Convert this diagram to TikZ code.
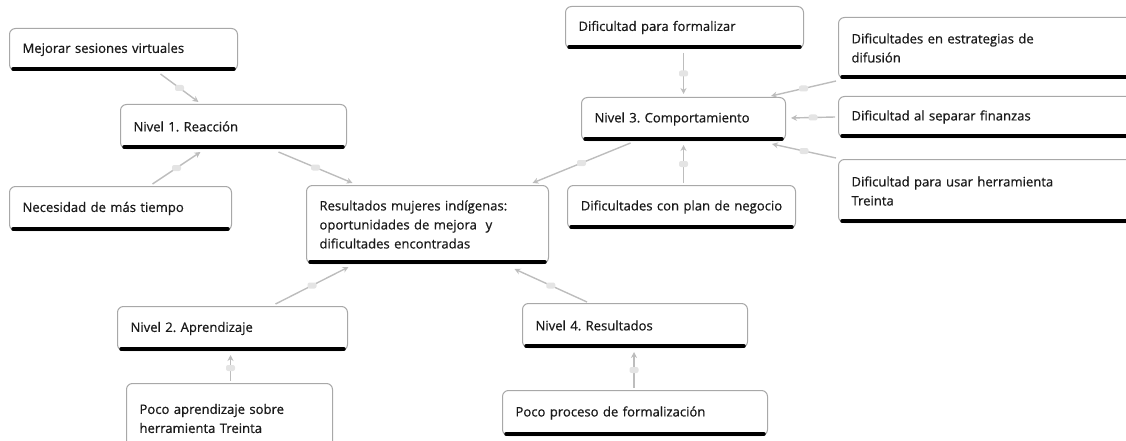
\documentclass[tikz,border=0pt]{standalone}
\usepackage{fontspec}
\setmainfont{Open Sans}[FakeBold=0.5]
\newfontfamily\semib{Open Sans}[FakeBold=0.6]
\usetikzlibrary{calc,arrows.meta}
\definecolor{boxgray}{HTML}{A8A8A8}
\definecolor{lgray}{HTML}{BDBDBD}
\definecolor{blobgray}{HTML}{E4E4E4}
\definecolor{txt}{HTML}{1A1A1A}
\begin{document}
\frenchspacing
\hyphenpenalty=10000
\begin{tikzpicture}[x=1pt,y=-1pt,
 box/.style={draw=boxgray, line width=1pt, fill=white, rounded corners=6pt, anchor=north west,
   inner xsep=13pt, inner ysep=4pt, align=left, font=\semib\fontsize{13.1}{19}\selectfont, text=txt},
 bar/.style={line width=3.5pt, line cap=round, black},
 conn/.style={draw=lgray, line width=1.4pt, -{Stealth[length=6pt,width=6pt]}},
 blob/.style={fill=blobgray, draw=none, rounded corners=2pt, minimum width=9pt, minimum height=6pt, inner sep=0pt}]
\useasboundingbox (0,0) rectangle (1126,441);
\clip (0,0) rectangle (1126,441);

% boxes
\node[box, minimum width=228pt, minimum height=42pt, text width=202pt] (mej) at (9,28) {Mejorar sesiones virtuales};
\node[box, minimum width=226pt, minimum height=44pt, text width=200pt] (n1) at (120,104) {Nivel 1. Reacción};
\node[box, minimum width=222pt, minimum height=44pt, text width=196pt] (nec) at (9,186) {Necesidad de más tiempo};
\node[box, minimum width=242pt, minimum height=78pt, text width=216pt] (cen) at (306,185) {Resultados mujeres indígenas:\\oportunidades de mejora \ y\\dificultades encontradas};
\node[box, minimum width=238pt, minimum height=42pt, text width=212pt] (dpf) at (565,6) {Dificultad para formalizar};
\node[box, minimum width=300pt, minimum height=61pt, text width=274pt] (dif) at (838,17) {Dificultades en estrategias de\\difusión};
\node[box, minimum width=204pt, minimum height=43pt, text width=178pt] (n3) at (581,97) {Nivel 3. Comportamiento};
\node[box, minimum width=300pt, minimum height=41pt, text width=274pt] (fin) at (838,96) {Dificultad al separar finanzas};
\node[box, minimum width=300pt, minimum height=63pt, text width=274pt] (her) at (838,159) {Dificultad para usar herramienta\\Treinta};
\node[box, minimum width=228pt, minimum height=43pt, text width=208pt, inner xsep=10pt] (plan) at (567,185) {\hfil Dificultades con plan de negocio\hfil};
\node[box, minimum width=230pt, minimum height=44pt, text width=204pt] (n2) at (117,306) {Nivel 2. Aprendizaje};
\node[box, minimum width=206pt, minimum height=70pt, text width=180pt] (pa) at (126,383) {Poco aprendizaje sobre\\herramienta Treinta};
\node[box, minimum width=225pt, minimum height=44pt, text width=199pt] (n4) at (522,303) {Nivel 4. Resultados};
\node[box, minimum width=265pt, minimum height=45pt, text width=239pt] (pp) at (502,390) {Poco proceso de formalización};

% bottom bars
\foreach \n in {mej,n1,nec,cen,dpf,dif,n3,fin,her,plan,n2,pa,n4,pp}
  \draw[bar] ($(\n.south west)+(4,-2)$) -- ($(\n.south east)+(-4,-2)$);

% connectors
\draw[conn] ($(mej.south)+(37,3)$) -- node[blob]{} ($(n1.north)+(-35,-2)$);
\draw[conn] ($(nec.north)+(32,-2)$) -- node[blob]{} ($(n1.south)+(-33,3)$);
\draw[conn] ($(n1.south)+(45,3)$) -- node[blob]{} ($(cen.north)+(-75,-2)$);
\draw[conn] ($(n2.north)+(43,-2)$) -- node[blob]{} ($(cen.south)+(-79,3)$);
\draw[conn] ($(n4.north)+(-48,-1)$) -- node[blob]{} ($(cen.south)+(87,5)$);
\draw[conn] ($(n3.south)+(-53,2)$) -- node[blob]{} ($(cen.north)+(105,-2)$);
\draw[conn] ($(dpf.south)+(-1,4)$) -- node[blob]{} ($(n3.north)+(0,-3)$);
\draw[conn] ($(dif.south west)+(-2,2)$) -- node[blob]{} ($(n3.north east)+(-15,-1)$);
\draw[conn] ($(fin.west)+(-3,0)$) -- node[blob]{} ($(n3.east)+(5,-1)$);
\draw[conn] ($(her.north west)+(-2,-1)$) -- node[blob]{} ($(n3.south east)+(-14,3)$);
\draw[conn] ($(plan.north)+(2,-2)$) -- node[blob]{} ($(n3.south)+(0,4)$);
\draw[conn] ($(pa.north)+(1,-2)$) -- node[blob]{} ($(n2.south)+(-2,4)$);
\draw[conn] ($(pp.north)+(-1,-2)$) -- node[blob]{} ($(n4.south)+(-1,4)$);
\end{tikzpicture}
\end{document}
